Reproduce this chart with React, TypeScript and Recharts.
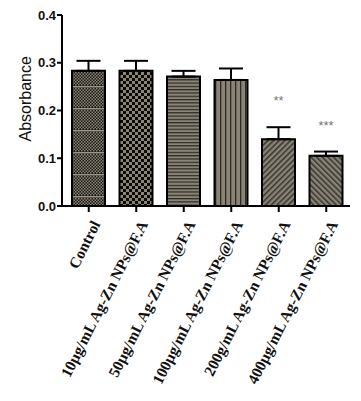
import React from 'react';
import { BarChart, Bar, XAxis, YAxis, ErrorBar, Cell, LabelList } from 'recharts';

const categories = [
  'Control',
  '10µg/mL Ag-Zn NPs@F.A',
  '50µg/mL Ag-Zn NPs@F.A',
  '100µg/mL Ag-Zn NPs@F.A',
  '200g/mL Ag-Zn NPs@F.A',
  '400µg/mL Ag-Zn NPs@F.A',
];
const absorbance = [0.283, 0.283, 0.271, 0.264, 0.14, 0.105];
const errors = [0.021, 0.021, 0.012, 0.024, 0.025, 0.009];
const significance = ['', '', '', '', '**', '***'];
const yTicks = [0, 0.1, 0.2, 0.3, 0.4];
const patternIds = ['p1', 'p2', 'p3', 'p4', 'p5', 'p6'];

const data = categories.map((name, i) => ({
  name,
  value: absorbance[i],
  err: [0, errors[i]],
  sig: significance[i],
}));

const TAN = '#8b8373';

const XTick = (props: any) => {
  const { x, y, payload } = props;
  const ax = x + 2;
  const ay = y + 5;
  return (
    <text
      x={ax}
      y={ay}
      transform={`rotate(-63, ${ax}, ${ay})`}
      textAnchor="end"
      dominantBaseline="hanging"
      fontFamily="'Liberation Serif', 'Times New Roman', serif"
      fontWeight="bold"
      fontSize={15.5}
      fill="#111"
    >
      {payload.value}
    </text>
  );
};

const SigLabel = (props: any) => {
  const { x, y, width, height, value, index } = props;
  if (!value) return null;
  const perUnit = height / absorbance[index];
  const errTop = y - errors[index] * perUnit;
  return (
    <text
      x={x + width / 2}
      y={errTop - 22}
      textAnchor="middle"
      fontFamily="'Liberation Sans', Arial, sans-serif"
      fontSize={13}
      fill="#777"
    >
      {value}
    </text>
  );
};

export default function App() {
  return (
    <div style={{ position: 'absolute', left: 0, top: 0, background: '#fff' }}>
      <BarChart
        width={361}
        height={401}
        data={data}
        margin={{ top: 15, right: 11, left: 0, bottom: 0 }}
        barSize={33}
      >
        <defs>
          <pattern id="p1" width="3" height="22" patternUnits="userSpaceOnUse">
            <rect width="3" height="22" fill="#1a1a1a" />
            {Array.from({ length: 13 }).map((_, k) => (
              <rect key={k} x={k % 2 === 0 ? 0 : 1.5} y={k * 1.5} width="1.5" height="1.5" fill={TAN} />
            ))}
            <rect x="0" y="20" width="3" height="1.5" fill="#9d9483" />
          </pattern>
          <pattern id="p2" width="6" height="6" patternUnits="userSpaceOnUse">
            <rect width="6" height="6" fill={TAN} />
            <rect x="0" y="0" width="3" height="3" fill="#0a0a0a" />
            <rect x="3" y="3" width="3" height="3" fill="#0a0a0a" />
          </pattern>
          <pattern id="p3" width="4" height="3.3" patternUnits="userSpaceOnUse">
            <rect width="4" height="3.3" fill={TAN} />
            <rect x="0" y="0" width="4" height="1.2" fill="#2a2a2a" />
          </pattern>
          <pattern id="p4" width="5" height="4" patternUnits="userSpaceOnUse">
            <rect width="5" height="4" fill={TAN} />
            <rect x="0" y="0" width="1.3" height="4" fill="#2a2a2a" />
          </pattern>
          <pattern id="p5" width="4" height="4" patternUnits="userSpaceOnUse" patternTransform="rotate(45)">
            <rect width="4" height="4" fill={TAN} />
            <rect x="0" y="0" width="1.5" height="4" fill="#333" />
          </pattern>
          <pattern id="p6" width="4" height="4" patternUnits="userSpaceOnUse" patternTransform="rotate(-45)">
            <rect width="4" height="4" fill={TAN} />
            <rect x="0" y="0" width="1.5" height="4" fill="#333" />
          </pattern>
        </defs>
        <XAxis
          dataKey="name"
          interval={0}
          height={195}
          padding={{ left: 3, right: 0 }}
          tick={<XTick />}
          tickSize={6}
          tickLine={{ stroke: '#000', strokeWidth: 2 }}
          axisLine={{ stroke: '#000', strokeWidth: 2 }}
        />
        <YAxis
          width={62}
          domain={[0, 0.4]}
          ticks={yTicks}
          tickFormatter={(v: number) => v.toFixed(1)}
          tickSize={5}
          tickMargin={1}
          tick={{ fontFamily: "'Liberation Sans', Arial, sans-serif", fontWeight: 'bold', fontSize: 13, fill: '#111' }}
          tickLine={{ stroke: '#000', strokeWidth: 2 }}
          axisLine={{ stroke: '#000', strokeWidth: 2 }}
          label={{
            value: 'Absorbance',
            angle: -90,
            position: 'insideLeft',
            dx: 20,
            dy: 31,
            style: { fontFamily: "'Liberation Sans', Arial, sans-serif", fontSize: 16, fill: '#111' },
          }}
        />
        <Bar dataKey="value" stroke="#000" strokeWidth={2} isAnimationActive={false}>
          {data.map((_, i) => (
            <Cell key={i} fill={`url(#${patternIds[i]})`} />
          ))}
          <ErrorBar dataKey="err" direction="y" width={12} stroke="#000" strokeWidth={2} />
          <LabelList dataKey="sig" content={<SigLabel />} />
        </Bar>
      </BarChart>
    </div>
  );
}
